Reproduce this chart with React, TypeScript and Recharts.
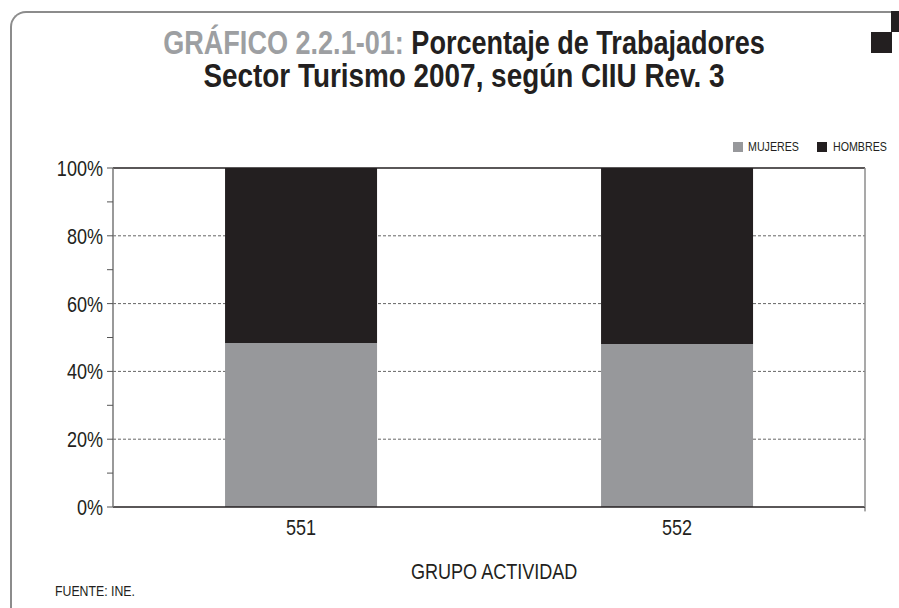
import React from 'react';
import { BarChart, Bar, XAxis, YAxis, CartesianGrid, ReferenceLine } from 'recharts';

const categories = ['551', '552'];
const mujeres = [48.4, 48.1];
const hombres = [51.6, 51.9];
const yTicks = [0, 10, 20, 30, 40, 50, 60, 70, 80, 90, 100];
const gridValues = [20, 40, 60, 80];
const seriesNames = ['MUJERES', 'HOMBRES'];
const seriesColors = ['#97989b', '#231f20'];

const chartData = categories.map((name, i) => ({
  name,
  mujeres: mujeres[i],
  hombres: hombres[i],
}));

const FONT = '"Liberation Sans", Arial, sans-serif';
const INK = '#231f20';
const SQUEEZE = 0.82;

// condensed tick text: same library positions, narrower glyphs
function YTick(props: any) {
  const { x, y, payload } = props;
  const v = payload.value as number;
  if (v % 20 !== 0) return <g />;
  return (
    <g transform={`translate(${x},${y}) scale(${SQUEEZE},1)`}>
      <text textAnchor="end" dy="0.36em" fontSize={22} fill={INK} fontFamily={FONT}>
        {`${v}%`}
      </text>
    </g>
  );
}

function XTick(props: any) {
  const { x, y, payload } = props;
  return (
    <g transform={`translate(${x},${y}) scale(${SQUEEZE},1)`}>
      <text textAnchor="middle" dy="0.71em" fontSize={22} fill={INK} fontFamily={FONT}>
        {payload.value}
      </text>
    </g>
  );
}

const squeezed: React.CSSProperties = {
  position: 'absolute',
  whiteSpace: 'nowrap',
  transform: `scaleX(${SQUEEZE})`,
  transformOrigin: '0 0',
};

function App() {
  return (
    <div
      style={{
        position: 'absolute',
        left: 0,
        top: 0,
        width: 899,
        height: 608,
        background: '#fff',
        overflow: 'hidden',
        fontFamily: FONT,
        color: INK,
      }}
    >
      {/* rounded frame + corner squares */}
      <div
        style={{
          position: 'absolute',
          left: 10,
          top: 11,
          width: 890,
          height: 640,
          borderTop: '2px solid #8c8c8c',
          borderLeft: '2px solid #8c8c8c',
          borderTopLeftRadius: 16,
        }}
      />
      <div style={{ position: 'absolute', left: 891, top: 11, width: 8, height: 21, background: INK }} />
      <div style={{ position: 'absolute', left: 871, top: 32, width: 21, height: 21, background: INK }} />

      {/* title */}
      <div
        style={{
          position: 'absolute',
          left: 0,
          top: 27,
          width: 928,
          textAlign: 'center',
          fontWeight: 'bold',
          fontSize: 33,
          lineHeight: '32px',
          transform: `scaleX(${SQUEEZE})`,
          transformOrigin: '464px 0',
        }}
      >
        <span style={{ color: '#9d9fa2' }}>GRÁFICO 2.2.1-01:</span> Porcentaje de Trabajadores
        <br />
        <span style={{ fontSize: 34 }}>Sector Turismo 2007, según CIIU Rev. 3</span>
      </div>

      {/* legend */}
      <div style={{ position: 'absolute', left: 733, top: 142, width: 10, height: 10, background: seriesColors[0] }} />
      <div style={{ ...squeezed, left: 748, top: 139, fontSize: 13, lineHeight: '16px' }}>{seriesNames[0]}</div>
      <div style={{ position: 'absolute', left: 817, top: 142, width: 10, height: 10, background: seriesColors[1] }} />
      <div style={{ ...squeezed, left: 833, top: 139, fontSize: 13, lineHeight: '16px' }}>{seriesNames[1]}</div>

      <div style={{ position: 'absolute', left: 0, top: 0 }}>
        <BarChart
          width={899}
          height={608}
          data={chartData}
          margin={{ top: 168, right: 33, bottom: 71, left: 0 }}
          barCategoryGap="29.8%"
          style={{ fontFamily: FONT }}
        >
          <CartesianGrid
            xAxisId="cat"
            yAxisId="left"
            vertical={false}
            horizontalValues={gridValues}
            stroke="#666"
            strokeDasharray="3 2"
          />
          <XAxis xAxisId="bnd" type="number" domain={[0, 2]} height={0} hide />
          <XAxis
            xAxisId="cat"
            dataKey="name"
            height={30}
            tickLine={false}
            tickSize={0}
            tickMargin={12}
            axisLine={{ stroke: INK, strokeWidth: 1.5 }}
            tick={<XTick />}
          />
          <YAxis
            yAxisId="left"
            domain={[0, 100]}
            ticks={yTicks}
            width={113}
            tickSize={6}
            tickMargin={4}
            interval={0}
            axisLine={{ stroke: '#777', strokeWidth: 1.5 }}
            tickLine={{ stroke: '#555' }}
            tick={<YTick />}
          />
          <YAxis
            yAxisId="right"
            orientation="right"
            domain={[0, 100]}
            width={1}
            tick={false}
            tickLine={false}
            axisLine={{ stroke: '#8c8c8c', strokeWidth: 1.5 }}
          />
          <Bar
            dataKey="mujeres"
            name={seriesNames[0]}
            stackId="a"
            xAxisId="cat"
            yAxisId="left"
            fill={seriesColors[0]}
            isAnimationActive={false}
          />
          <Bar
            dataKey="hombres"
            name={seriesNames[1]}
            stackId="a"
            xAxisId="cat"
            yAxisId="left"
            fill={seriesColors[1]}
            isAnimationActive={false}
          />
          <ReferenceLine y={100} xAxisId="cat" yAxisId="left" stroke={INK} strokeWidth={1.5} />
          {/* category boundary tick below the axis */}
          <ReferenceLine
            xAxisId="bnd"
            yAxisId="left"
            segment={[{ x: 1, y: 0 }, { x: 1, y: -1.3 }]}
            ifOverflow="visible"
            stroke="#555"
          />
        </BarChart>
      </div>

      {/* axis title and source */}
      <div style={{ ...squeezed, left: 411, top: 560, fontSize: 22, lineHeight: '24px' }}>GRUPO ACTIVIDAD</div>
      <div style={{ ...squeezed, left: 55, top: 582, fontSize: 15, lineHeight: '18px' }}>FUENTE: INE.</div>
    </div>
  );
}

export default App;
